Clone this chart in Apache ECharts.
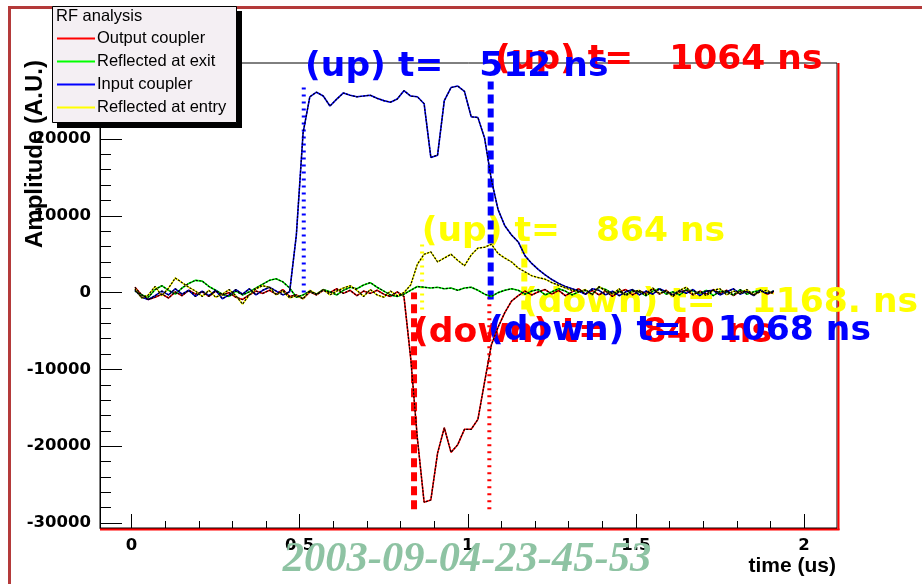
<!DOCTYPE html>
<html><head><meta charset="utf-8">
<script src="https://cdn.jsdelivr.net/npm/echarts@6/dist/echarts.min.js"></script>
<style>html,body{margin:0;padding:0;background:#fff;}#c{width:922px;height:584px;}</style>
</head><body><div id="c"></div>
<script>
// ---- data (time in us, amplitude in A.U.) ----
const times = [0.01,0.03,0.05,0.07,0.09,0.11,0.13,0.15,0.17,0.19,0.21,0.23,0.25,0.27,0.29,0.31,0.33,0.35,0.37,0.39,
  0.41,0.43,0.45,0.47,0.49,0.51,0.53,0.55,0.57,0.59,0.61,0.63,0.65,0.67,0.69,0.71,0.73,0.75,0.77,0.79,
  0.81,0.83,0.85,0.87,0.89,0.91,0.93,0.95,0.97,0.99,1.01,1.03,1.05,1.07,1.09,1.11,1.13,1.15,1.17,1.19,
  1.21,1.23,1.25,1.27,1.29,1.31,1.33,1.35,1.37,1.39,1.41,1.43,1.45,1.47,1.49,1.51,1.53,1.55,1.57,1.59,
  1.61,1.63,1.65,1.67,1.69,1.71,1.73,1.75,1.77,1.79,1.81,1.83,1.85,1.87,1.89,1.91];

const outputCoupler = [700,-300,-900,-600,-200,-700,100,-400,300,-200,100,-500,200,-300,0,-600,-900,-300,200,-100,
  300,-200,400,-500,-300,-800,100,-300,300,0,500,-100,300,-400,200,-100,300,-200,-500,100,
  -500,-8500,-19000,-27300,-27000,-20900,-17600,-20800,-19800,-17800,-17800,-16500,-11600,-6800,-4500,-2600,-1100,
  -400,200,-300,100,400,-200,300,-400,100,500,-200,300,-300,200,-500,100,400,-300,200,-100,500,-200,300,-400,
  100,300,-300,200,-200,400,-100,300,-400,200,100,-300,300,-200,100];

const reflectedAtExit = [200,-300,-600,400,900,300,-200,600,1200,1600,1500,800,300,-200,-500,200,-300,100,600,1100,
  1600,1800,1400,600,-600,-300,200,-200,400,100,-300,300,700,500,1000,1300,700,200,-300,-500,
  -200,300,800,700,600,700,500,600,300,600,700,300,-200,-500,0,300,500,300,-200,200,400,-300,100,500,200,-300,100,
  300,-200,700,400,-100,200,-300,300,100,-400,200,500,-200,100,-300,400,200,-100,300,-400,200,100,-300,400,-200,100,300,-100,200];

const inputCoupler = [300,-600,-900,-400,200,-300,500,-200,300,-500,200,-400,300,-800,-300,400,-200,500,-300,300,700,200,-300,100,
  7500,20800,25500,26100,25600,24300,25200,26000,25700,25500,25600,25700,25300,25000,24800,25200,26300,25600,25500,24600,
  17600,17900,25000,26700,26900,26200,22900,22800,20100,14700,10800,8700,7500,6600,4800,3800,3000,2300,1700,1200,800,500,200,
  -200,500,300,-300,200,-400,100,400,-300,200,-200,500,100,-300,300,-100,400,-400,200,300,-300,100,500,-200,200,-400,300,-100,200];

const reflectedAtEntry = [500,-700,-300,800,-400,600,1900,1300,700,200,-500,300,-600,-200,400,-400,-1500,-300,500,900,
  700,-300,200,-700,-400,-800,300,-200,400,-300,200,600,900,300,-500,400,-300,-600,200,-400,
  0,1000,3700,5000,5300,4000,4500,5000,4200,3500,4900,5800,5900,6300,5100,4500,4000,3200,2700,2200,1950,1750,1300,950,600,300,100,
  400,-300,800,200,-200,500,-400,100,300,-300,600,-100,200,-500,300,700,-200,100,-400,300,500,-300,200,-100,400,-300,100,300,-200];

const seriesNames = ['Output coupler','Reflected at exit','Input coupler','Reflected at entry'];
const seriesColors = ['#ff0000','#00ff00','#0000ff','#ffff00'];
const seriesValues = [outputCoupler, reflectedAtExit, inputCoupler, reflectedAtEntry];

// rise / fall markers
const markerGroup  = [0, 0, 3, 3, 2, 2];            // index into seriesColors
const markerKind   = ['down','up','up','down','up','down'];
const markerTimes  = [0.840, 1.064, 0.864, 1.168, 0.512, 1.068];
const markerLow    = [-28200, -28200, -2200, -2200, 0, -900];
const markerHigh   = [0, -600, 6300, 6500, 26800, 27500];
const markerLabels = ['(down) t=   840 ns','(up) t=   1064 ns','(up) t=   864 ns','(down) t=   1168. ns','(up) t=   512 ns','(down) t=   1068 ns'];
const markerLabelX = [0.837, 1.081, 0.863, 1.161, 0.516, 1.060];
const markerLabelY = [-5260, 30280, 7890, -1350, 29370, -5000];

// ticks
const xMajorTicks = [0, 0.5, 1, 1.5, 2];
const xMinorTicks = [0,0.1,0.2,0.3,0.4,0.5,0.6,0.7,0.8,0.9,1,1.1,1.2,1.3,1.4,1.5,1.6,1.7,1.8,1.9,2];
const yMajorTicks = [-30000,-20000,-10000,0,10000,20000];
const yMinorTicks = [-30000,-28000,-26000,-24000,-22000,-20000,-18000,-16000,-14000,-12000,-10000,-8000,-6000,-4000,-2000,
  0,2000,4000,6000,8000,10000,12000,14000,16000,18000,20000,22000,24000,26000,28000];
const xMin = -0.094, xMax = 2.098, yMin = -30650, yMax = 29900;

// ---- build ----
const chart = echarts.init(document.getElementById('c'), null, {renderer:'canvas'});
const series = [];
const labelZ = [3, 3, 4, 4, 5, 5];
seriesValues.forEach((vals, k) => {
  const d = times.map((t, i) => [t, vals[i]]);
  series.push({type:'line', name:seriesNames[k], data:d, symbol:'none', showSymbol:false, silent:true,
    color:seriesColors[k], lineStyle:{color:seriesColors[k], width:1.6}, itemStyle:{color:seriesColors[k]}, z:7});
  series.push({type:'line', name:'_dots'+k, data:d, symbol:'none', showSymbol:false, silent:true,
    lineStyle:{color:'#000', width:1.2, type:[2.2,1.3]}, z:8});
});
markerTimes.forEach((t, m) => {
  const c = seriesColors[markerGroup[m]];
  const up = markerKind[m] === 'up';
  series.push({type:'line', name:'_mk'+m, data:[[t, markerLow[m]],[t, markerHigh[m]]], symbol:'none', silent:true,
    lineStyle:{color:c, width: up ? 4 : 6, type: up ? [2,5] : [9,5]}, z:6});
  series.push({type:'scatter', name:'_lb'+m, data:[{value:[markerLabelX[m], markerLabelY[m]], name:markerLabels[m]}], symbolSize:0,
    clip:false, silent:true, z:labelZ[m],
    label:{show:true, position:'right', distance:0, formatter:'{b}', color:c, opacity:1, fontFamily:'DejaVu Sans',
      fontWeight:'bold', fontSize:34.5}});
});

const tickFont = {fontFamily:'DejaVu Sans', fontWeight:'bold', fontSize:16.5, color:'#000'};

chart.setOption({
  animation:false,
  backgroundColor:'#ffffff',
  grid:{left:100, top:63, right:85, bottom:56, show:true, borderColor:'#000', borderWidth:1, backgroundColor:'#fff',
    containLabel:false, outerBoundsMode:'none'},
  xAxis:[
    {type:'value', min:xMin, max:xMax, position:'bottom',
      axisLine:{show:true, onZero:false, lineStyle:{color:'#000', width:1}},
      axisTick:{show:true, inside:true, length:14, customValues:xMajorTicks, lineStyle:{color:'#000', width:1}},
      axisLabel:Object.assign({show:true, customValues:xMajorTicks, margin:9, formatter:v=>String(v)}, tickFont),
      splitLine:{show:false}},
    {type:'value', min:xMin, max:xMax, position:'bottom',
      axisLine:{show:false, onZero:false},
      axisTick:{show:true, inside:true, length:7, customValues:xMinorTicks, lineStyle:{color:'#000', width:1}},
      axisLabel:{show:false}, splitLine:{show:false}}
  ],
  yAxis:[
    {type:'value', min:yMin, max:yMax, position:'left',
      axisLine:{show:true, onZero:false, lineStyle:{color:'#000', width:1}},
      axisTick:{show:true, inside:true, length:22, customValues:yMajorTicks, lineStyle:{color:'#000', width:1}},
      axisLabel:Object.assign({show:true, customValues:yMajorTicks, margin:9, formatter:v=>String(v)}, tickFont),
      splitLine:{show:false}},
    {type:'value', min:yMin, max:yMax, position:'left',
      axisLine:{show:false, onZero:false},
      axisTick:{show:true, inside:true, length:11, customValues:yMinorTicks, lineStyle:{color:'#000', width:1}},
      axisLabel:{show:false}, splitLine:{show:false}}
  ],
  legend:{
    data:seriesNames.map((n,i)=>({name:n, icon:'rect', itemStyle:{color:seriesColors[i]}})),
    orient:'vertical', left:57, top:30, itemWidth:38, itemHeight:2, itemGap:6, padding:0,
    selectedMode:false, z:20,
    textStyle:{fontFamily:'Liberation Sans', fontSize:16.5, lineHeight:17, color:'#000', padding:[0,0,0,-3]}
  },
  graphic:[
    {type:'rect', silent:true, z:1, shape:{x:8, y:6, width:914, height:3}, style:{fill:'#b43a3a'}},
    {type:'rect', silent:true, z:1, shape:{x:8, y:6, width:3, height:578}, style:{fill:'#b43a3a'}},
    {type:'rect', silent:true, z:1, shape:{x:837.5, y:63, width:2, height:467}, style:{fill:'#ff0000'}},
    {type:'rect', silent:true, z:1, shape:{x:100, y:528.5, width:739.5, height:2}, style:{fill:'#ff0000'}},
    {type:'rect', silent:true, z:14, shape:{x:57, y:11, width:185, height:117}, style:{fill:'#000'}},
    {type:'rect', silent:true, z:15, shape:{x:52.5, y:6.5, width:184, height:116}, style:{fill:'#f4eff3', stroke:'#000', lineWidth:1}},
    {type:'text', silent:true, z:21, x:56, y:16, style:{text:'RF analysis', fontFamily:'Liberation Sans', fontSize:16.5, fill:'#000', align:'left', verticalAlign:'middle'}},
    {type:'text', silent:true, z:12, x:35, y:60, rotation:Math.PI/2, style:{text:'Amplitude (A.U.)', fontFamily:'Liberation Sans', fontWeight:'bold', fontSize:24, fill:'#000', align:'right', verticalAlign:'middle'}},
    {type:'text', silent:true, z:12, x:836, y:566, style:{text:'time (us)', fontFamily:'Liberation Sans', fontWeight:'bold', fontSize:21, fill:'#000', align:'right', verticalAlign:'middle'}},
    {type:'text', silent:true, z:12, x:467, y:560, style:{text:'2003-09-04-23-45-53', fontFamily:'Liberation Serif', fontStyle:'italic', fontWeight:'bold', fontSize:42.5, fill:'#8ec3a3', align:'center', verticalAlign:'middle'}}
  ],
  series:series
});
</script>
</body></html>
